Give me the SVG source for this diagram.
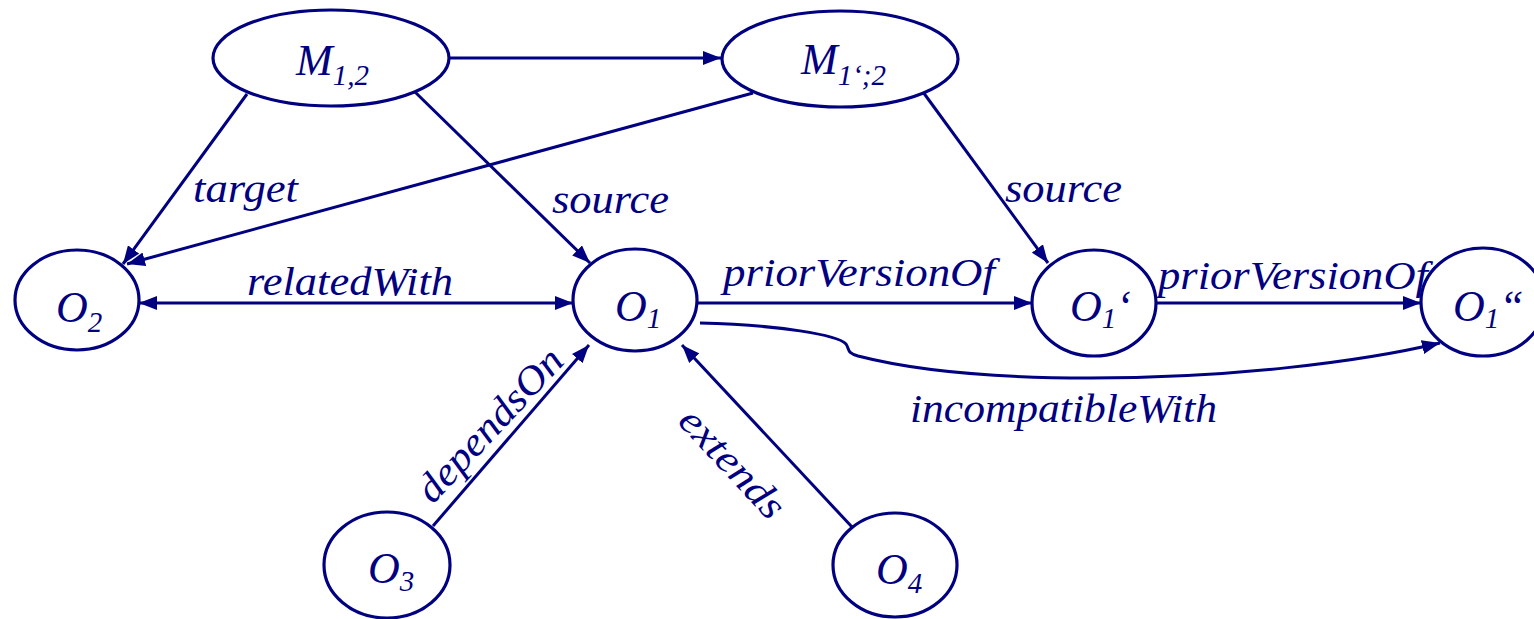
<svg xmlns="http://www.w3.org/2000/svg" width="1534" height="619" viewBox="0 0 1534 619">
  <style>
    .node { fill: #ffffff; stroke: #000080; stroke-width: 3.2; }
    .edge { fill: none; stroke: #000080; stroke-width: 3; }
    .lbl { font-family: "Liberation Serif", "Times New Roman", serif; font-style: italic; fill: #000080; font-size: 40px; }
    .nlbl { font-family: "Liberation Serif", "Times New Roman", serif; font-style: italic; fill: #000080; font-size: 44px; }
    .sub { font-size: 29px; }
  </style>
  <defs>
    <marker id="arrow" viewBox="0 0 18 14" refX="18" refY="7" markerWidth="18" markerHeight="14" markerUnits="userSpaceOnUse" orient="auto-start-reverse">
      <path d="M0,0 L18,7 L0,14 z" fill="#000080"/>
    </marker>
  </defs>
  <rect width="1534" height="619" fill="#ffffff"/>

  <!-- connectors -->
  <g id="connectors">
    <line class="edge" x1="449" y1="58" x2="721" y2="58" marker-end="url(#arrow)"/>
    <line class="edge" x1="247" y1="94" x2="123" y2="264" marker-end="url(#arrow)"/>
    <line class="edge" x1="753" y1="93" x2="127" y2="264" marker-end="url(#arrow)"/>
    <line class="edge" x1="415" y1="92" x2="590" y2="263" marker-end="url(#arrow)"/>
    <line class="edge" x1="923" y1="92" x2="1048" y2="263" marker-end="url(#arrow)"/>
    <line class="edge" x1="139" y1="303" x2="573" y2="303" marker-start="url(#arrow)" marker-end="url(#arrow)"/>
    <line class="edge" x1="697" y1="303" x2="1032" y2="303" marker-end="url(#arrow)"/>
    <line class="edge" x1="1157" y1="303" x2="1421" y2="303" marker-end="url(#arrow)"/>
    <path class="edge" d="M700,323 C780,325 838,335 846,344 C850,350 846,352 858,356 C920,372 1000,378 1090,378 C1230,378 1360,362 1440,343" marker-end="url(#arrow)"/>
    <line class="edge" x1="433" y1="526" x2="589" y2="345" marker-end="url(#arrow)"/>
    <line class="edge" x1="852" y1="527" x2="682" y2="345" marker-end="url(#arrow)"/>

    <text class="lbl" x="193" y="202" textLength="105" lengthAdjust="spacingAndGlyphs">target</text>
    <text class="lbl" x="552" y="213" textLength="117" lengthAdjust="spacingAndGlyphs">source</text>
    <text class="lbl" x="1005" y="202" textLength="117" lengthAdjust="spacingAndGlyphs">source</text>
    <text class="lbl" x="247" y="295" textLength="206" lengthAdjust="spacingAndGlyphs">relatedWith</text>
    <text class="lbl" x="723" y="286" textLength="272" lengthAdjust="spacingAndGlyphs">priorVersionOf</text>
    <text class="lbl" x="1158" y="289" textLength="270" lengthAdjust="spacingAndGlyphs">priorVersionOf</text>
    <text class="lbl" x="910" y="422" textLength="307" lengthAdjust="spacingAndGlyphs">incompatibleWith</text>
    <text class="lbl" transform="translate(499,434) rotate(-47)" x="-97" y="0" textLength="195" lengthAdjust="spacingAndGlyphs">dependsOn</text>
    <text class="lbl" transform="translate(723,472) rotate(47)" x="-68" y="0" textLength="136" lengthAdjust="spacingAndGlyphs">extends</text>
  </g>

  <!-- nodes -->
  <g id="M12">
    <ellipse class="node" cx="331" cy="58" rx="118" ry="48"/>
    <text class="nlbl" x="296" y="75">M<tspan class="sub" dy="10">1,2</tspan></text>
  </g>
  <g id="M1p2">
    <ellipse class="node" cx="840" cy="59" rx="118" ry="48"/>
    <text class="nlbl" x="801" y="74">M<tspan class="sub" dy="11">1‘;2</tspan></text>
  </g>
  <g id="O2">
    <ellipse class="node" cx="77" cy="300" rx="62" ry="50"/>
    <text class="nlbl" x="56" y="322">O<tspan class="sub" dy="10">2</tspan></text>
  </g>
  <g id="O1">
    <ellipse class="node" cx="635" cy="300" rx="62" ry="51"/>
    <text class="nlbl" x="615" y="321">O<tspan class="sub" dy="7">1</tspan></text>
  </g>
  <g id="O1p">
    <ellipse class="node" cx="1094" cy="303" rx="62" ry="53"/>
    <text class="nlbl" x="1070" y="321">O<tspan class="sub" dy="7">1</tspan><tspan dy="-7">‘</tspan></text>
  </g>
  <g id="O1pp">
    <ellipse class="node" cx="1483" cy="302" rx="62" ry="54"/>
    <text class="nlbl" x="1453" y="321">O<tspan class="sub" dy="7">1</tspan><tspan dy="-7">“</tspan></text>
  </g>
  <g id="O3">
    <ellipse class="node" cx="387" cy="565" rx="63" ry="53"/>
    <text class="nlbl" x="368" y="583">O<tspan class="sub" dy="8">3</tspan></text>
  </g>
  <g id="O4">
    <ellipse class="node" cx="895" cy="565" rx="62" ry="52"/>
    <text class="nlbl" x="876" y="584">O<tspan class="sub" dy="9">4</tspan></text>
  </g>
</svg>
